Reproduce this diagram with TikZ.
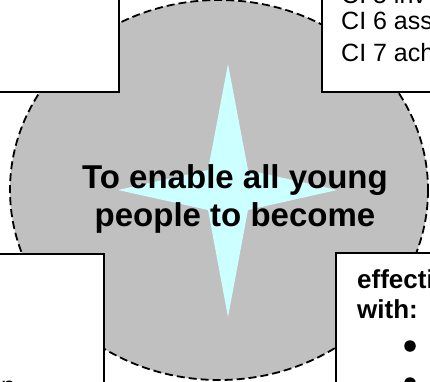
\documentclass[tikz,border=0pt]{standalone}
\usepackage{fontspec}
\setmainfont{Liberation Sans}
\usepackage{xcolor}
\usetikzlibrary{positioning}

\definecolor{discgray}{HTML}{C0C0C0}
\definecolor{starcyan}{HTML}{CCFFFF}

\begin{document}
\begin{tikzpicture}[
x=1pt, y=-1pt,
disc/.style={
fill=discgray,
draw=black,
line width=1.8pt,
dash pattern=on 8pt off 4pt
},
panel/.style={
fill=white,
draw=black,
line width=1.8pt
},
headline/.style={
font=\bfseries\fontsize{33}{37.5}\selectfont,
align=center,
inner sep=0pt
},
boxtext/.style={
font=\fontsize{25}{28}\selectfont,
inner sep=0pt,
anchor=base west
},
boxhead/.style={
font=\bfseries\fontsize{26}{30}\selectfont,
inner sep=0pt,
anchor=base west
},
dot/.style={
circle,
fill=black,
inner sep=0pt,
minimum size=11.5pt
}
]

\useasboundingbox (0,0) rectangle (430,381);
\clip (0,0) rectangle (430,381);

% the grey disc and the star
\draw[disc] (219,190) ellipse [x radius=209, y radius=190];

\fill[starcyan]
(228,64) -- (248,170) -- (337,190) -- (248,210) --
(228,317) -- (208,210) -- (118,190) -- (208,170) -- cycle;

% corner boxes
\draw[panel] (-10,-10) rectangle (119,92);
\draw[panel] (322,-10) rectangle (440,92);
\draw[panel] (-10,254) rectangle (104,390);
\draw[panel] (336,253) rectangle (440,390);

% texts
\node[headline, anchor=base] (aim) at (235,226)
{To enable all young\\people to become};

\node[boxtext] (ci5) at (341,3) {CI 5 inv};
\node[boxtext] (ci6) at (341,29) {CI 6 ass};
\node[boxtext] (ci7) at (341,61) {CI 7 ach};

\node[boxtext] (cut) at (1,394) {n};

\node[boxhead] (eff) at (357,288) {effecti};
\node[boxhead] (with) at (357,318) {with:};

\node[dot] (b1) at (410,346) {};
\node[dot] (b2) at (410,383) {};

\end{tikzpicture}
\end{document}
